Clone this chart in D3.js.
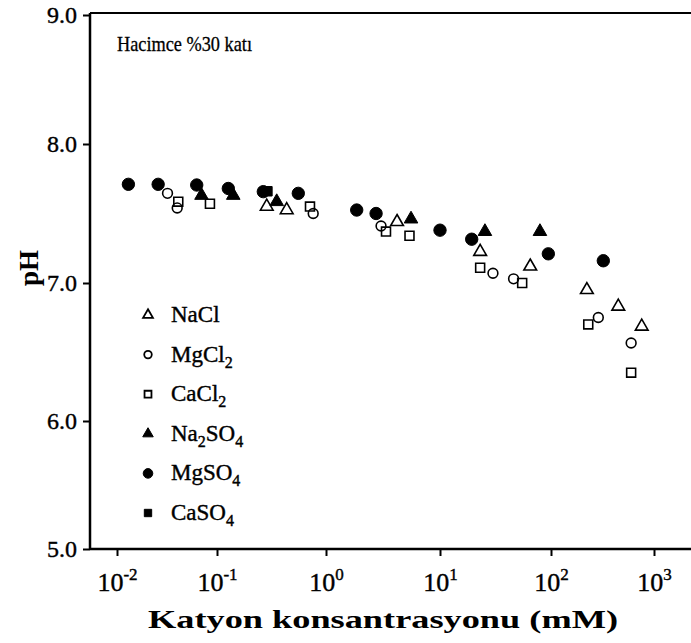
<!DOCTYPE html>
<html>
<head>
<meta charset="utf-8">
<script src="https://cdn.jsdelivr.net/npm/d3@7"></script>
<style>
  body { margin: 0; background: #fff; }
  text { font-family: "Liberation Serif", "DejaVu Serif", serif; fill: #000; }
</style>
</head>
<body>
<svg id="chart" width="691" height="643"></svg>
<script>
// ---- data -------------------------------------------------------------
const xDecades = [-2, -1, 0, 1, 2, 3];            // x tick exponents (10^n mM)
const yTicks = [5, 6, 7, 8, 9];
const yTickLabels = ["5.0", "6.0", "7.0", "8.0", "9.0"];

// cation concentration (mM) and pH for each salt
const naclConc   = [0.286, 0.436, 4.2, 23, 65, 223, 450, 760];
const naclPH     = [7.55, 7.525, 7.44, 7.225, 7.12, 6.95, 6.83, 6.685];

const mgcl2Conc  = [0.032, 0.040, 0.763, 3.04, 30, 46, 288, 600];
const mgcl2PH    = [7.645, 7.54, 7.50, 7.41, 7.07, 7.03, 6.75, 6.565];

const cacl2Conc  = [0.041, 0.085, 0.713, 3.36, 5.4, 23, 55, 230, 600];
const cacl2PH    = [7.585, 7.57, 7.55, 7.37, 7.34, 7.11, 7.00, 6.70, 6.35];

const na2so4Conc = [0.070, 0.141, 0.353, 5.57, 25.4, 79.5];
const na2so4PH   = [7.63, 7.63, 7.585, 7.46, 7.37, 7.37];

const mgso4Conc  = [0.0130, 0.0258, 0.0627, 0.127, 0.266, 0.557, 1.86, 2.75, 10, 19.3, 94.6, 322];
const mgso4PH    = [7.71, 7.71, 7.705, 7.68, 7.657, 7.645, 7.525, 7.50, 7.38, 7.315, 7.21, 7.16];

const caso4Conc  = [0.29];
const caso4PH    = [7.66];

const seriesNames = ["NaCl", "MgCl2", "CaCl2", "Na2SO4", "MgSO4", "CaSO4"];

// ---- layout ------------------------------------------------------------
const svg = d3.select("#chart");
const frameLeft = 90, frameRight = 691, frameTop = 13, frameBottom = 549;

// the scanned axes are slightly uneven, so the scales are piecewise
const x = d3.scaleLog()
  .domain([Math.pow(10, -2.27), 0.01, 0.1, 1, 10, 100, 1000, Math.pow(10, 3.36)])
  .range([frameLeft, 117, 217, 326, 440, 551, 654, frameRight]);
const y = d3.scaleLinear()
  .domain([5, 6, 7, 8, 9])
  .range([frameBottom, 421, 283, 144, 15]);

const series = [
  { name: seriesNames[0], conc: naclConc,   ph: naclPH,   shape: d3.symbolTriangle, filled: false, size: 70 },
  { name: seriesNames[1], conc: mgcl2Conc,  ph: mgcl2PH,  shape: d3.symbolCircle,   filled: false, size: 75 },
  { name: seriesNames[2], conc: cacl2Conc,  ph: cacl2PH,  shape: d3.symbolSquare,   filled: false, size: 80 },
  { name: seriesNames[3], conc: na2so4Conc, ph: na2so4PH, shape: d3.symbolTriangle, filled: true,  size: 80 },
  { name: seriesNames[4], conc: mgso4Conc,  ph: mgso4PH,  shape: d3.symbolCircle,   filled: true,  size: 120 },
  { name: seriesNames[5], conc: caso4Conc,  ph: caso4PH,  shape: d3.symbolSquare,   filled: true,  size: 90 }
];

// ---- frame -------------------------------------------------------------
svg.append("line").attr("x1", frameLeft).attr("x2", frameLeft)
  .attr("y1", frameTop).attr("y2", frameBottom)
  .attr("stroke", "#000").attr("stroke-width", 2.5);
svg.append("line").attr("x1", frameLeft).attr("x2", frameRight)
  .attr("y1", frameBottom).attr("y2", frameBottom)
  .attr("stroke", "#000").attr("stroke-width", 2.5);
svg.append("line").attr("x1", frameLeft).attr("x2", frameRight)
  .attr("y1", frameTop).attr("y2", frameTop)
  .attr("stroke", "#000").attr("stroke-width", 2);

// ---- y axis ------------------------------------------------------------
const yAxis = d3.axisLeft(y).tickValues(yTicks)
  .tickFormat((d, i) => yTickLabels[i]).tickSize(7).tickPadding(6);
const gy = svg.append("g").attr("transform", `translate(${frameLeft},0)`).call(yAxis);
gy.select(".domain").remove();
gy.selectAll(".tick line").attr("stroke", "#000").attr("stroke-width", 2);
gy.selectAll(".tick text").attr("font-size", 24).attr("font-family", "Liberation Serif")
  .attr("stroke", "#000").attr("stroke-width", 0.4);

// ---- x axis ------------------------------------------------------------
const xTickVals = xDecades.map(e => Math.pow(10, e));
const xAxis = d3.axisBottom(x).tickValues(xTickVals).tickFormat("").tickSize(7);
const gx = svg.append("g").attr("transform", `translate(0,${frameBottom})`).call(xAxis);
gx.select(".domain").remove();
gx.selectAll(".tick line").attr("stroke", "#000").attr("stroke-width", 2);
gx.selectAll(".tick").each(function (d, i) {
  const t = d3.select(this).append("text")
    .attr("y", 42).attr("text-anchor", "middle").attr("font-size", 26)
    .attr("stroke", "#000").attr("stroke-width", 0.4);
  t.append("tspan").text("10");
  t.append("tspan").attr("dy", -11).attr("font-size", 17).text(String(xDecades[i]));
});

// ---- axis titles -------------------------------------------------------
svg.append("text")
  .attr("transform", "translate(38,268) rotate(-90)")
  .attr("text-anchor", "middle").attr("font-size", 27).attr("font-weight", "bold")
  .text("pH");
svg.append("text")
  .attr("x", 148).attr("y", 628)
  .attr("font-size", 25).attr("font-weight", "bold")
  .attr("textLength", 470).attr("lengthAdjust", "spacingAndGlyphs")
  .text("Katyon konsantrasyonu (mM)");

svg.append("text")
  .attr("x", 117).attr("y", 51)
  .attr("font-size", 22)
  .attr("stroke", "#000").attr("stroke-width", 0.3)
  .attr("textLength", 135).attr("lengthAdjust", "spacingAndGlyphs")
  .text("Hacimce %30 katı");

// ---- points ------------------------------------------------------------
series.forEach(s => {
  const sym = d3.symbol().type(s.shape).size(s.size);
  svg.append("g").selectAll("path")
    .data(s.conc.map((c, i) => ({ c, p: s.ph[i] })))
    .join("path")
    .attr("d", sym)
    .attr("transform", d => `translate(${x(d.c)},${y(d.p)})`)
    .attr("fill", s.filled ? "#000" : "none")
    .attr("stroke", "#000")
    .attr("stroke-width", s.filled ? 1 : 1.6);
});

// ---- legend ------------------------------------------------------------
const legendRowY = d3.scalePoint().domain(seriesNames).range([315, 513]);
const legendLabel = {
  NaCl:   [["NaCl", 0]],
  MgCl2:  [["MgCl", 0], ["2", 1]],
  CaCl2:  [["CaCl", 0], ["2", 1]],
  Na2SO4: [["Na", 0], ["2", 1], ["SO", 0], ["4", 1]],
  MgSO4:  [["MgSO", 0], ["4", 1]],
  CaSO4:  [["CaSO", 0], ["4", 1]]
};
const legend = svg.append("g");
series.forEach(s => {
  const cy = legendRowY(s.name);
  legend.append("path")
    .attr("d", d3.symbol().type(s.shape).size(s.size * 0.6)())
    .attr("transform", `translate(148,${cy})`)
    .attr("fill", s.filled ? "#000" : "none")
    .attr("stroke", "#000").attr("stroke-width", s.filled ? 1 : 1.8);
  const t = legend.append("text").attr("x", 171).attr("y", cy + 7).attr("font-size", 23)
    .attr("stroke", "#000").attr("stroke-width", 0.4);
  let lowered = false;
  legendLabel[s.name].forEach(([str, sub]) => {
    const sp = t.append("tspan").text(str);
    if (sub && !lowered) { sp.attr("dy", 6).attr("font-size", 16); lowered = true; }
    else if (!sub && lowered) { sp.attr("dy", -6); lowered = false; }
  });
});
</script>
</body>
</html>
